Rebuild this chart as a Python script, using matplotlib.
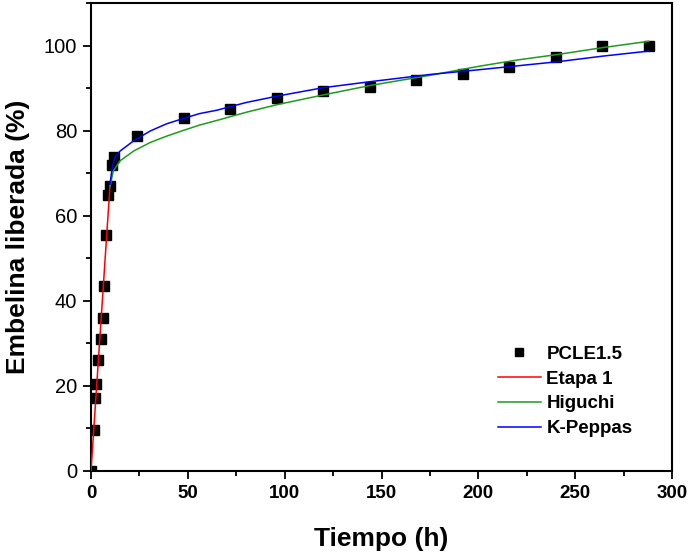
import numpy as np
import matplotlib
matplotlib.use("Agg")
import matplotlib.pyplot as plt
from matplotlib.ticker import MultipleLocator

plt.rcParams['font.family'] = ['Liberation Sans', 'DejaVu Sans']

# Experimental release data (PCLE1.5)
t_data = [0, 1.3, 1.9, 2.6, 3.8, 5.0, 6.0, 6.8, 8.0, 9.0, 9.9, 11.0, 12.0,
          24, 48, 72, 96, 120, 144, 168, 192, 216, 240, 264, 288]
y_data = [0, 9.6, 17.2, 20.4, 26.2, 31.0, 35.9, 43.6, 55.5, 64.9, 67.0, 71.9, 73.8,
          78.7, 82.9, 85.2, 87.7, 89.2, 90.2, 91.8, 93.3, 94.9, 97.3, 99.8, 99.8]

# Etapa 1 (linear stage)
t_etapa = [0, 9.8]
y_etapa = [0, 67.0]

# Higuchi curve
t_hig = [9.8, 11.5, 15, 22, 30.5, 39, 48, 56, 65, 80, 96, 120, 144, 175, 200, 220, 241, 264, 288]
y_hig = [66.8, 70.5, 72.9, 75.2, 77.2, 78.7, 80.1, 81.3, 82.4, 84.3, 86.1, 88.4, 90.6, 93.0,
         95.1, 96.6, 97.9, 99.5, 101.0]

# Korsmeyer-Peppas curve
t_kp = [9.8, 11, 12.4, 15, 22, 30.5, 39, 48, 56, 65, 80, 96, 120, 144, 175, 200, 241, 264, 288]
y_kp = [67.4, 71.5, 73.7, 75.2, 77.6, 79.9, 81.6, 82.9, 84.0, 84.8, 86.6, 88.1, 90.1, 91.5,
        93.2, 94.3, 96.2, 97.5, 98.7]

fig = plt.figure(figsize=(6.89, 5.53), dpi=100)
ax = fig.add_axes([91 / 689, 1 - 471 / 553, 581 / 689, 468 / 553])

pts, = ax.plot(t_data, y_data, 's', color='black', markersize=7.2, zorder=2, label='PCLE1.5')
l1, = ax.plot(t_etapa, y_etapa, color='#ff0000', lw=1.1, zorder=3, label='Etapa 1')
l2, = ax.plot(t_hig, y_hig, color='#1f9a1f', lw=1.1, zorder=3, label='Higuchi')
l3, = ax.plot(t_kp, y_kp, color='#0000ff', lw=1.1, zorder=3, label='K-Peppas')

ax.set_xlim(0, 300)
ax.set_ylim(0, 110)
ax.xaxis.set_major_locator(MultipleLocator(50))
ax.xaxis.set_minor_locator(MultipleLocator(25))
ax.yaxis.set_major_locator(MultipleLocator(20))
ax.yaxis.set_minor_locator(MultipleLocator(10))

for s in ax.spines.values():
    s.set_linewidth(1.5)

ax.tick_params(which='major', direction='out', length=6, width=1.3, pad=4)
ax.tick_params(which='minor', direction='out', length=3.5, width=1.3)
ax.tick_params(axis='x', labelsize=13.5)
ax.tick_params(axis='y', labelsize=14.5)
for lab in ax.get_xticklabels():
    lab.set_fontweight('bold')

ax.set_xlabel('Tiempo (h)', fontsize=19, fontweight='bold', labelpad=18)
ax.set_ylabel('Embelina liberada (%)', fontsize=19, fontweight='bold', labelpad=10)

leg = ax.legend(handles=[pts, l1, l2, l3], loc='upper left',
                bbox_to_anchor=(0.700, 0.268), frameon=False,
                prop={'weight': 'bold', 'size': 13.5},
                handlelength=2.3, handletextpad=0.3, labelspacing=0.41,
                borderpad=0, borderaxespad=0, markerscale=0.75)

fig.savefig('out.png', dpi=100)
